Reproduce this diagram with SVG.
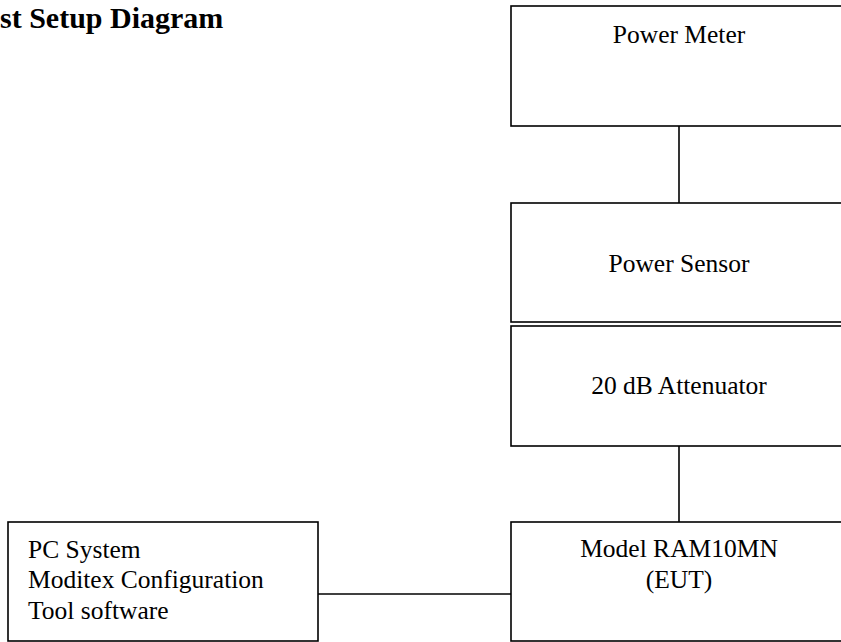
<svg xmlns="http://www.w3.org/2000/svg" width="841" height="642" viewBox="0 0 841 642">
<style>
.box{fill:#fff;stroke:#000;stroke-width:1.6}
.con{stroke:#000;stroke-width:1.6;fill:none}
.t{font-family:"Liberation Serif","Times New Roman",serif;font-size:25.5px;fill:#000}
.c{text-anchor:middle}
.title{font-family:"Liberation Serif","Times New Roman",serif;font-size:30px;font-weight:bold;fill:#000}
</style>
<rect width="841" height="642" fill="#fff"/>
<text class="title" x="0" y="28">st Setup Diagram</text>
<g id="connectors">
<line class="con" x1="679" y1="126" x2="679" y2="203"/>
<line class="con" x1="679" y1="446" x2="679" y2="523"/>
<line class="con" x1="318" y1="594" x2="511" y2="594"/>
</g>
<g id="power-meter">
<rect class="box" x="511" y="6" width="340" height="120"/>
<text class="t c" x="679" y="43">Power Meter</text>
</g>
<g id="power-sensor">
<rect class="box" x="511" y="203" width="340" height="119"/>
<text class="t c" x="679" y="272">Power Sensor</text>
</g>
<g id="attenuator">
<rect class="box" x="511" y="326" width="340" height="120"/>
<text class="t c" x="679" y="394">20 dB Attenuator</text>
</g>
<g id="eut">
<rect class="box" x="511" y="522" width="340" height="119"/>
<text class="t c" x="679" y="557">Model RAM10MN</text>
<text class="t c" x="679" y="588">(EUT)</text>
</g>
<g id="pc">
<rect class="box" x="8" y="522" width="310" height="119"/>
<text class="t" x="28" y="558">PC System</text>
<text class="t" x="28" y="588">Moditex Configuration</text>
<text class="t" x="28" y="619">Tool software</text>
</g>
</svg>
